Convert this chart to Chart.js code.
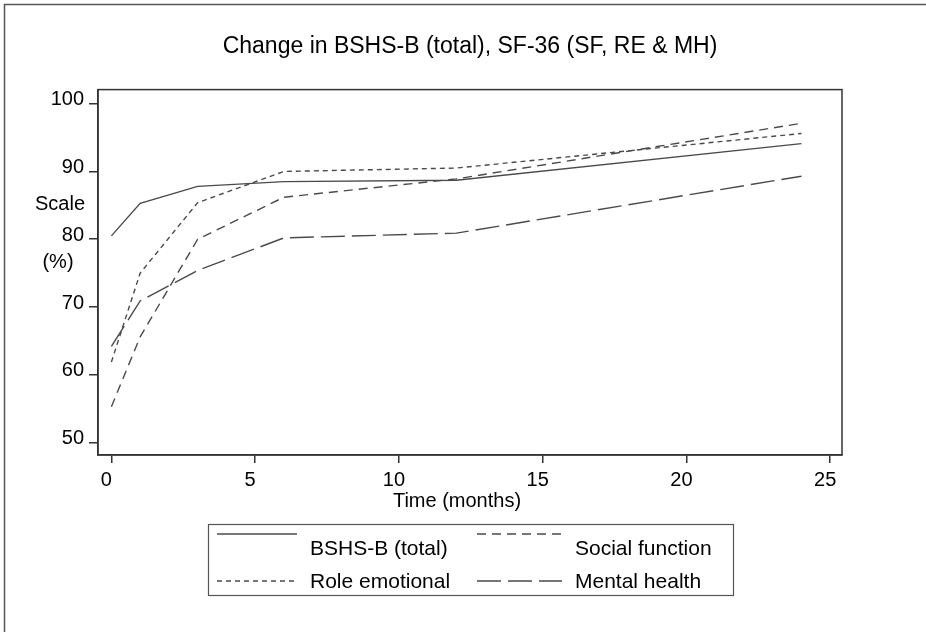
<!DOCTYPE html>
<html><head><meta charset="utf-8">
<script src="https://cdn.jsdelivr.net/npm/chart.js@4.4.1/dist/chart.umd.min.js"></script>
<style>html,body{margin:0;padding:0;background:#fff;} canvas{display:block;}</style>
</head><body>
<canvas id="c" width="926" height="632"></canvas>
<script>
// ---- data ----
const months = [0, 1, 3, 6, 12, 24];
const bshsTotal = [80.5, 85.3, 87.8, 88.5, 88.7, 94.1];
const socialFunction = [55.3, 65.6, 80.0, 86.2, 88.9, 97.1];
const roleEmotional = [61.9, 75.0, 85.4, 90.0, 90.5, 95.6];
const mentalHealth = [64.2, 70.9, 75.4, 80.2, 80.9, 89.3];
const xTickValues = [0, 5, 10, 15, 20, 25];
const yTickValues = [50, 60, 70, 80, 90, 100];
const seriesLabels = ['BSHS-B (total)', 'Social function', 'Role emotional', 'Mental health'];
const chartTitle = 'Change in BSHS-B (total), SF-36 (SF, RE & MH)';
const xTitle = 'Time (months)';
const yTitleLines = ['Scale', '(%)'];

const FONT = '"Liberation Sans", Arial, Helvetica, sans-serif';
const LINE = '#4a4a4a';
const AXIS = '#333333';

function toPoints(vals) { return months.map((m, i) => ({ x: m, y: vals[i] })); }

const dashes = [[], [9, 6], [5, 4], [24, 7]];
const seriesValues = [bshsTotal, socialFunction, roleEmotional, mentalHealth];

const datasets = seriesValues.map((vals, i) => ({
  label: seriesLabels[i],
  data: toPoints(vals),
  borderColor: LINE,
  borderWidth: 1.4,
  borderDash: dashes[i],
  pointRadius: 0,
  fill: false,
  tension: 0
}));

const framePlugin = {
  id: 'frame',
  beforeDraw(chart) {
    const ctx = chart.ctx;
    ctx.save();
    ctx.fillStyle = '#fff';
    ctx.fillRect(0, 0, chart.width, chart.height);
    ctx.strokeStyle = '#555';
    ctx.lineWidth = 1.5;
    ctx.beginPath();
    ctx.moveTo(4.5, chart.height);
    ctx.lineTo(4.5, 4.5);
    ctx.lineTo(chart.width, 4.5);
    ctx.stroke();
    ctx.restore();
  },
  afterDraw(chart) {
    const ctx = chart.ctx, a = chart.chartArea;
    ctx.save();
    ctx.strokeStyle = AXIS;
    ctx.lineWidth = 1.5;
    ctx.strokeRect(a.left, a.top, a.right - a.left, a.bottom - a.top);
    // horizontal y-axis title, two lines
    const ys = chart.scales.y;
    ctx.fillStyle = '#000';
    ctx.font = '20px ' + FONT;
    ctx.textAlign = 'center';
    ctx.textBaseline = 'middle';
    ctx.fillText(yTitleLines[0], 60, ys.getPixelForValue(85.1));
    ctx.fillText(yTitleLines[1], 58, ys.getPixelForValue(76.6));
    // x-axis title
    ctx.fillText(xTitle, (a.left + a.right) / 2 - 13, 501);
    // boxed legend, 2 columns
    const box = { left: 208.5, top: 524.5, right: 733.5, bottom: 595.5 };
    ctx.strokeStyle = '#555';
    ctx.lineWidth = 1.2;
    ctx.strokeRect(box.left, box.top, box.right - box.left, box.bottom - box.top);
    const cols = [{ s0: 217, s1: 297, tx: 310 }, { s0: 477, s1: 562, tx: 575 }];
    const rowText = [549, 582];
    const rowSample = [534, 581];
    ctx.font = '21px ' + FONT;
    ctx.textAlign = 'left';
    chart.data.datasets.forEach((ds, i) => {
      const r = Math.floor(i / 2), c = i % 2;
      const col = cols[c];
      ctx.strokeStyle = ds.borderColor;
      ctx.lineWidth = ds.borderWidth;
      ctx.setLineDash(ds.borderDash || []);
      ctx.beginPath();
      ctx.moveTo(col.s0, rowSample[r]);
      ctx.lineTo(col.s1, rowSample[r]);
      ctx.stroke();
      ctx.setLineDash([]);
      ctx.fillStyle = '#000';
      ctx.fillText(ds.label, col.tx, rowText[r]);
    });
    ctx.restore();
  }
};

new Chart(document.getElementById('c'), {
  type: 'line',
  data: { datasets },
  options: {
    responsive: false,
    animation: false,
    devicePixelRatio: 1,
    layout: { padding: { top: 4, right: 84, left: 0, bottom: 0 } },
    plugins: {
      legend: { display: false },
      tooltip: { enabled: false },
      title: {
        display: true,
        text: chartTitle,
        fullSize: false,
        color: '#000',
        font: { family: FONT, size: 23, weight: 'normal' },
        padding: { top: 29, bottom: 29 }
      }
    },
    scales: {
      x: {
        type: 'linear',
        min: -0.466,
        max: 25.41,
        afterFit(axis) { axis.height = 177; },
        afterBuildTicks(axis) { axis.ticks = xTickValues.map(v => ({ value: v })); },
        grid: { drawOnChartArea: false, drawTicks: true, tickLength: 8, color: AXIS, lineWidth: 1.5 },
        border: { display: true, color: AXIS, width: 1.5 },
        ticks: { color: '#000', font: { family: FONT, size: 20 }, padding: 5, labelOffset: -5, maxRotation: 0 },
        title: { display: false }
      },
      y: {
        type: 'linear',
        min: 48.18,
        max: 102.07,
        afterFit(axis) { axis.width = 98; },
        afterBuildTicks(axis) { axis.ticks = yTickValues.map(v => ({ value: v })); },
        grid: { drawOnChartArea: false, drawTicks: true, tickLength: 9, color: AXIS, lineWidth: 1.5 },
        border: { display: true, color: AXIS, width: 1.5 },
        ticks: { color: '#000', font: { family: FONT, size: 20 }, padding: 5, labelOffset: -4 }
      }
    }
  },
  plugins: [framePlugin]
});
</script>
</body></html>
